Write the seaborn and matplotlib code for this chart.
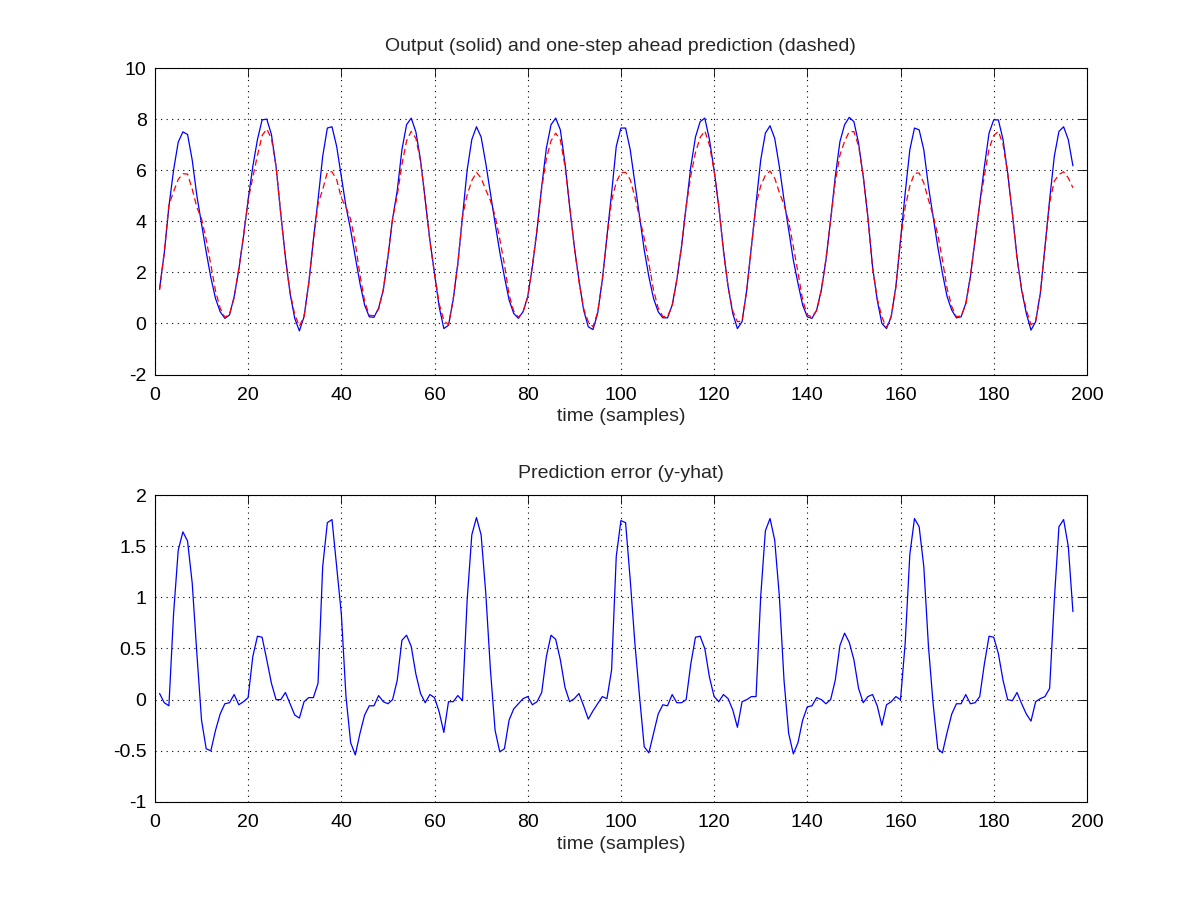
import numpy as np
import pandas as pd
import matplotlib
matplotlib.use("Agg")
import matplotlib.pyplot as plt
import seaborn as sns

y_out = [
    1.37, 2.75, 4.58, 6.0, 7.1, 7.5, 7.4, 6.4, 5.0, 3.9,
    2.8, 1.8, 0.98, 0.46, 0.2, 0.33, 1.05, 2.1, 3.4, 4.84,
    6.14, 7.2, 7.97, 8.0, 7.4, 6.14, 4.3, 2.6, 1.18, 0.2,
    -0.29, 0.26, 1.57, 3.27, 4.84, 6.54, 7.65, 7.7, 6.93, 5.75,
    4.58, 3.66, 2.6, 1.57, 0.72, 0.26, 0.24, 0.6, 1.3, 2.6,
    4.1, 5.2, 6.8, 7.78, 8.04, 7.5, 6.4, 4.84, 3.27, 1.96,
    0.65, -0.2, -0.07, 0.92, 2.35, 4.18, 6.0, 7.2, 7.7, 7.3,
    6.27, 5.1, 3.92, 2.8, 1.83, 0.92, 0.39, 0.2, 0.46, 1.05,
    2.22, 3.66, 5.36, 6.86, 7.78, 8.04, 7.58, 6.27, 4.58, 3.0,
    1.7, 0.52, -0.13, -0.24, 0.39, 1.7, 3.4, 5.1, 6.93, 7.65,
    7.65, 6.8, 5.5, 4.18, 2.88, 1.83, 0.98, 0.46, 0.22, 0.22,
    0.72, 1.7, 3.0, 4.58, 6.14, 7.3, 7.9, 8.04, 7.2, 6.0,
    4.58, 2.88, 1.44, 0.39, -0.2, 0.07, 1.3, 3.0, 4.7, 6.4,
    7.45, 7.74, 7.25, 6.14, 4.84, 3.66, 2.48, 1.57, 0.72, 0.26,
    0.2, 0.52, 1.3, 2.48, 4.05, 5.75, 7.12, 7.78, 8.07, 7.9,
    7.06, 5.75, 4.18, 2.22, 0.92, 0.0, -0.2, 0.26, 1.44, 3.27,
    5.1, 6.8, 7.65, 7.58, 6.8, 5.36, 4.18, 3.0, 1.96, 1.05,
    0.52, 0.22, 0.26, 0.78, 1.83, 3.27, 4.7, 6.14, 7.45, 7.97,
    7.97, 7.2, 5.88, 4.31, 2.6, 1.3, 0.39, -0.26, 0.07, 1.18,
    3.0, 4.84, 6.54, 7.52, 7.7, 7.2, 6.17,
]

# one-step ahead prediction (dashed red curve)
y_hat = [
    1.31, 2.78, 4.64, 5.16, 5.64, 5.86, 5.85, 5.26, 4.55, 4.1,
    3.28, 2.3, 1.28, 0.6, 0.24, 0.36, 1.0, 2.15, 3.42, 4.82,
    5.72, 6.58, 7.36, 7.61, 7.24, 6.14, 4.3, 2.53, 1.22, 0.35,
    -0.11, 0.28, 1.55, 3.25, 4.68, 5.24, 5.92, 5.94, 5.63, 4.91,
    4.55, 4.08, 3.14, 1.9, 0.87, 0.32, 0.3, 0.56, 1.32, 2.64,
    4.1, 5.01, 6.22, 7.15, 7.52, 7.25, 6.34, 4.87, 3.22, 1.94,
    0.77, 0.12, -0.05, 0.94, 2.31, 4.19, 5.03, 5.59, 5.92, 5.69,
    5.23, 4.81, 4.22, 3.31, 2.31, 1.12, 0.48, 0.24, 0.45, 1.02,
    2.27, 3.68, 5.29, 6.44, 7.15, 7.45, 7.19, 6.15, 4.6, 2.99,
    1.64, 0.58, 0.06, -0.13, 0.43, 1.67, 3.39, 4.81, 5.53, 5.9,
    5.92, 5.63, 4.95, 4.15, 3.34, 2.35, 1.31, 0.6, 0.27, 0.28,
    0.67, 1.73, 3.03, 4.58, 5.79, 6.69, 7.28, 7.54, 6.98, 5.97,
    4.6, 2.83, 1.43, 0.49, 0.07, 0.09, 1.3, 2.97, 4.67, 5.39,
    5.8, 5.97, 5.69, 5.13, 4.65, 3.99, 3.01, 1.99, 0.92, 0.33,
    0.26, 0.5, 1.3, 2.52, 4.05, 5.56, 6.59, 7.13, 7.51, 7.51,
    6.95, 5.78, 4.15, 2.17, 0.98, 0.25, -0.15, 0.28, 1.41, 3.27,
    4.55, 5.38, 5.88, 5.89, 5.5, 4.84, 4.22, 3.48, 2.48, 1.37,
    0.66, 0.26, 0.3, 0.73, 1.87, 3.3, 4.67, 5.79, 6.83, 7.36,
    7.52, 7.01, 5.88, 4.32, 2.53, 1.34, 0.53, -0.05, 0.09, 1.17,
    2.97, 4.73, 5.57, 5.83, 5.94, 5.7, 5.31,
]

# prediction error (bottom panel)
pred_err = [
    0.06, -0.03, -0.06, 0.84, 1.46, 1.64, 1.55, 1.14, 0.45, -0.2,
    -0.48, -0.5, -0.3, -0.14, -0.04, -0.03, 0.05, -0.05, -0.02, 0.02,
    0.42, 0.62, 0.61, 0.39, 0.16, 0.0, 0.0, 0.07, -0.04, -0.15,
    -0.18, -0.02, 0.02, 0.02, 0.16, 1.3, 1.73, 1.76, 1.3, 0.84,
    0.03, -0.42, -0.54, -0.33, -0.15, -0.06, -0.06, 0.04, -0.02, -0.04,
    0.0, 0.19, 0.58, 0.63, 0.52, 0.25, 0.06, -0.03, 0.05, 0.02,
    -0.12, -0.32, -0.02, -0.02, 0.04, -0.01, 0.97, 1.61, 1.78, 1.61,
    1.04, 0.29, -0.3, -0.51, -0.48, -0.2, -0.09, -0.04, 0.01, 0.03,
    -0.05, -0.02, 0.07, 0.42, 0.63, 0.59, 0.39, 0.12, -0.02, 0.01,
    0.06, -0.06, -0.19, -0.11, -0.04, 0.03, 0.01, 0.29, 1.4, 1.75,
    1.73, 1.17, 0.55, 0.03, -0.46, -0.52, -0.33, -0.14, -0.05, -0.06,
    0.05, -0.03, -0.03, 0.0, 0.35, 0.61, 0.62, 0.5, 0.22, 0.03,
    -0.02, 0.05, 0.01, -0.1, -0.27, -0.02, 0.0, 0.03, 0.03, 1.01,
    1.65, 1.77, 1.56, 1.01, 0.19, -0.33, -0.53, -0.42, -0.2, -0.07,
    -0.06, 0.02, 0.0, -0.04, 0.0, 0.19, 0.53, 0.65, 0.56, 0.39,
    0.11, -0.03, 0.03, 0.05, -0.06, -0.25, -0.05, -0.02, 0.03, 0.0,
    0.55, 1.42, 1.77, 1.69, 1.3, 0.52, -0.04, -0.48, -0.52, -0.32,
    -0.14, -0.04, -0.04, 0.05, -0.04, -0.03, 0.03, 0.35, 0.62, 0.61,
    0.45, 0.19, 0.0, -0.01, 0.07, -0.04, -0.14, -0.21, -0.02, 0.01,
    0.03, 0.11, 0.97, 1.69, 1.76, 1.5, 0.86,
]

samples = list(range(1, len(y_out) + 1))
xticks = list(range(0, 201, 20))
top_yticks = list(range(-2, 11, 2))
bot_yticks = [-1, -0.5, 0, 0.5, 1, 1.5, 2]
bot_ylabels = ["-1", "-0.5", "0", "0.5", "1", "1.5", "2"]

df = pd.DataFrame({"t": samples, "y": y_out, "yhat": y_hat, "err": pred_err})

sns.set_style("white")
plt.rcParams["font.family"] = ["Liberation Sans", "DejaVu Sans"]
plt.rcParams["font.size"] = 14
plt.rcParams["axes.unicode_minus"] = False

fig = plt.figure(figsize=(12.01, 9.01), dpi=100)
ax1 = fig.add_axes([0.129, 0.5843, 0.776, 0.3402])
ax2 = fig.add_axes([0.129, 0.1099, 0.776, 0.3407])

sns.lineplot(data=df, x="t", y="y", ax=ax1, color="#0000ff", lw=0.9, estimator=None)
sns.lineplot(data=df, x="t", y="yhat", ax=ax1, color="#ff0000", lw=0.9,
             estimator=None, dashes=False)
ax1.lines[-1].set_dashes([5, 3])
sns.lineplot(data=df, x="t", y="err", ax=ax2, color="#0000ff", lw=0.9, estimator=None)


def matlab_axes(ax, yticks, ylabels=None):
    ax.set_xlim(0, 200)
    ax.set_xticks(xticks)
    ax.set_yticks(yticks)
    if ylabels is not None:
        ax.set_yticklabels(ylabels)
    ax.set_ylim(yticks[0], yticks[-1])
    ax.grid(True, color="black", linestyle=(0, (1, 4)), linewidth=0.8)
    ax.tick_params(direction="in", length=6.5, width=0.6, top=True, right=True,
                   labelsize=14, pad=6, colors="black")
    ax.tick_params(axis="x", pad=9)
    for sp in ax.spines.values():
        sp.set_color("black")
        sp.set_linewidth(0.8)
    ax.set_xlabel("time (samples)", fontsize=14, labelpad=3)
    ax.set_ylabel("")


matlab_axes(ax1, top_yticks)
ax1.set_title("Output (solid) and one-step ahead prediction (dashed)", fontsize=14, pad=12)
matlab_axes(ax2, bot_yticks, bot_ylabels)
ax2.set_title("Prediction error (y-yhat)", fontsize=14, pad=12)

fig.savefig("out.png", dpi=100, facecolor="white")
